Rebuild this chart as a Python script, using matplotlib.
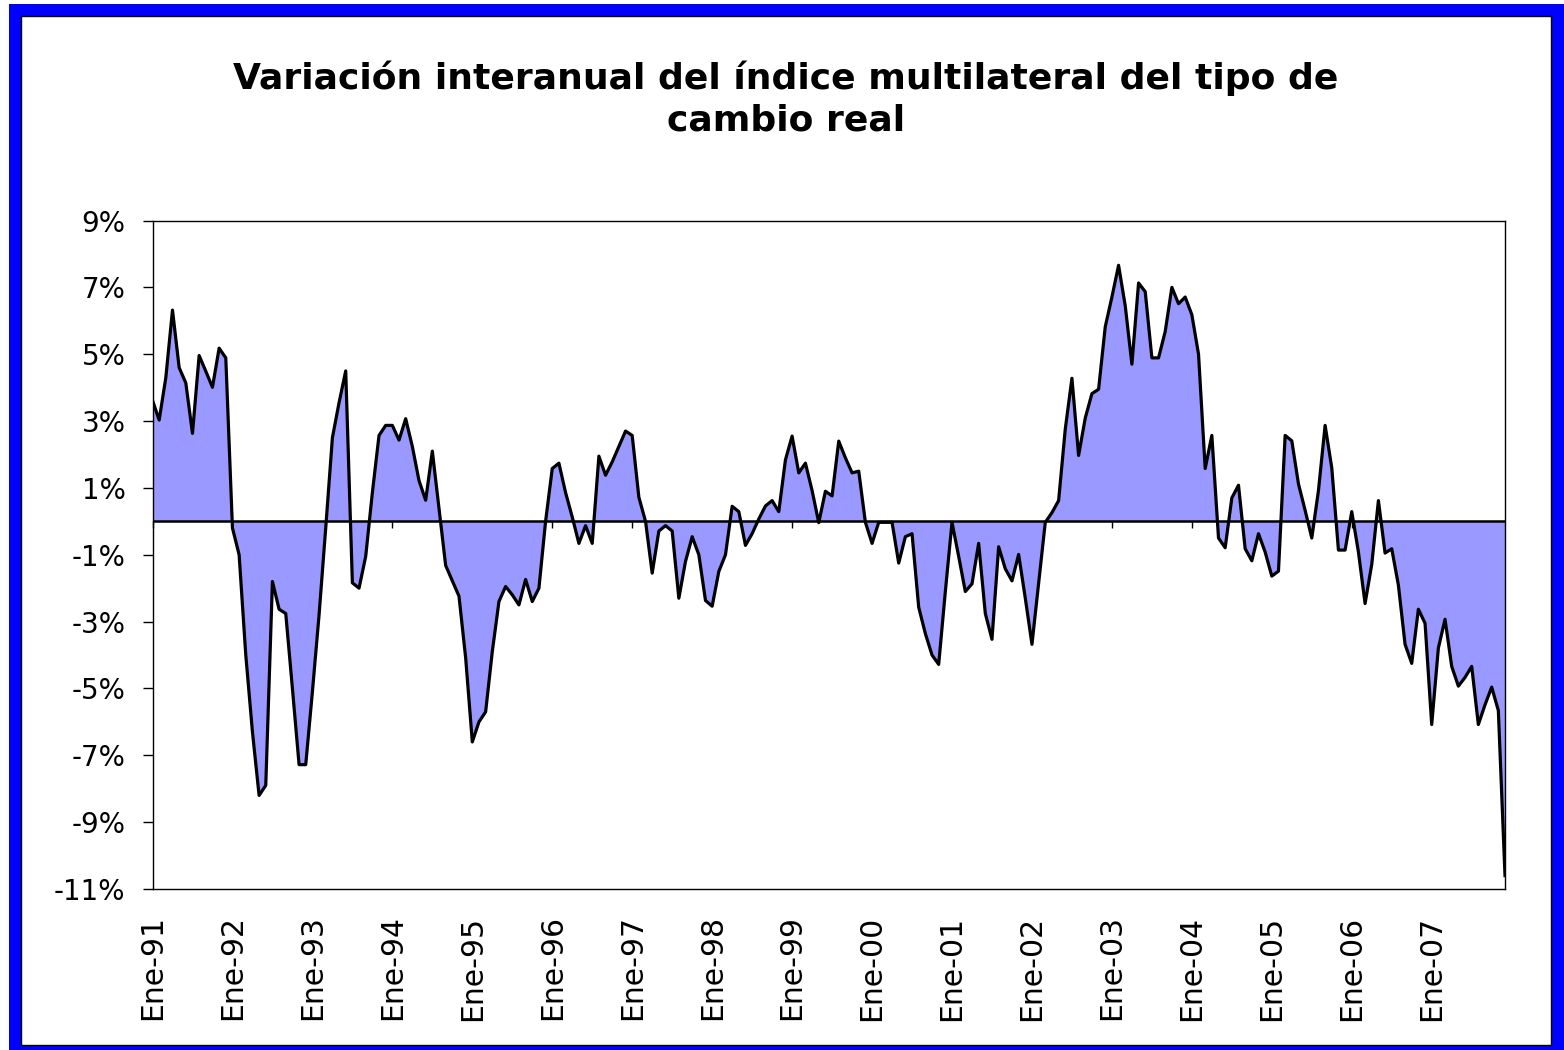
import matplotlib
matplotlib.use('Agg')
import matplotlib.pyplot as plt
import numpy as np
from matplotlib.patches import Rectangle

# anos del eje (etiqueta en enero de cada ano)
years = ['91', '92', '93', '94', '95', '96', '97', '98', '99',
         '00', '01', '02', '03', '04', '05', '06', '07']

# variacion interanual mensual (%), ene-91 a dic-07, una fila por ano
variacion = [
    3.62, 3.03, 4.30, 6.32, 4.60, 4.14, 2.63, 4.96, 4.49, 4.01, 5.18, 4.89,          # 1991
    -0.20, -1.00, -4.00, -6.30, -8.20, -7.90, -1.80, -2.63, -2.76, -5.00, -7.28, -7.28,  # 1992
    -5.10, -2.80, -0.20, 2.50, 3.55, 4.50, -1.84, -2.00, -1.05, 0.86, 2.57, 2.87,    # 1993
    2.87, 2.43, 3.07, 2.24, 1.22, 0.63, 2.10, 0.40, -1.32, -1.78, -2.24, -4.08,      # 1994
    -6.60, -6.00, -5.70, -3.90, -2.40, -1.95, -2.20, -2.50, -1.74, -2.40, -2.00, 0.00,  # 1995
    1.58, 1.74, 0.86, 0.13, -0.66, -0.13, -0.66, 1.95, 1.38, 1.78, 2.24, 2.70,       # 1996
    2.57, 0.72, 0.00, -1.55, -0.29, -0.13, -0.29, -2.30, -1.20, -0.46, -1.00, -2.37,  # 1997
    -2.54, -1.50, -1.00, 0.45, 0.29, -0.72, -0.37, 0.07, 0.46, 0.62, 0.29, 1.84,     # 1998
    2.55, 1.45, 1.74, 0.92, -0.04, 0.90, 0.76, 2.40, 1.90, 1.45, 1.50, -0.03,        # 1999
    -0.66, -0.03, -0.03, -0.03, -1.25, -0.46, -0.37, -2.57, -3.36, -4.00, -4.28, -2.10,  # 2000
    -0.03, -1.05, -2.10, -1.87, -0.66, -2.76, -3.53, -0.76, -1.42, -1.78, -0.99, -2.30,  # 2001
    -3.68, -1.84, -0.03, 0.26, 0.62, 2.76, 4.28, 1.97, 3.09, 3.82, 3.95, 5.82,       # 2002
    6.71, 7.66, 6.45, 4.70, 7.13, 6.87, 4.89, 4.89, 5.68, 7.00, 6.51, 6.71,          # 2003
    6.18, 5.00, 1.58, 2.57, -0.50, -0.79, 0.70, 1.08, -0.82, -1.18, -0.37, -0.92,    # 2004
    -1.64, -1.49, 2.57, 2.41, 1.12, 0.33, -0.50, 0.92, 2.87, 1.60, -0.86, -0.86,     # 2005
    0.29, -0.92, -2.46, -1.29, 0.62, -0.95, -0.82, -1.91, -3.68, -4.25, -2.63, -3.05,  # 2006
    -6.08, -3.79, -2.93, -4.34, -4.93, -4.67, -4.34, -6.08, -5.49, -4.96, -5.66, -10.60,  # 2007
]

y_ticks = [-11, -9, -7, -5, -3, -1, 1, 3, 5, 7, 9]
y_labels = [str(v) + '%' for v in y_ticks]

title = 'Variación interanual del índice multilateral del tipo de\ncambio real'

W, H = 1564, 1050
n = len(variacion)
x = np.arange(n)

fig = plt.figure(figsize=(W / 100, H / 100), dpi=100)
fig.patch.set_facecolor('white')
# marco azul y area blanca interior (detras de los ejes)
fig.patches.append(Rectangle((9 / W, 0), (W - 9) / W, (H - 4) / H,
                             transform=fig.transFigure, facecolor='#0000FF',
                             edgecolor='none', zorder=-10))
fig.patches.append(Rectangle((21 / W, 5 / H), 1530 / W, 1029 / H,
                             transform=fig.transFigure, facecolor='white',
                             edgecolor='black', linewidth=1, zorder=-9))

ax = fig.add_axes([152.5 / W, (H - 889) / H, 1352.5 / W, 668.5 / H])
ax.patch.set_alpha(0)
ax.fill_between(x, variacion, 0, color='#9999FF', linewidth=0)
ax.plot(x, variacion, color='black', lw=2.3)
ax.axhline(0, color='black', lw=1.8, zorder=3)

ax.set_xlim(0, n - 1)
ax.set_ylim(-11, 9)
ax.set_yticks(y_ticks, y_labels)
ax.tick_params(axis='y', direction='out', length=7.5, width=1, labelsize=20, pad=12)

tick_pos = np.arange(0, n, 12)
ax.set_xticks(tick_pos, ['Ene-' + y for y in years], rotation=90)
ax.tick_params(axis='x', length=0, labelsize=21.5, pad=19)
for s in ax.spines.values():
    s.set_linewidth(1)

# marcas de ano sobre la linea del cero (eje secundario a la altura de 0%)
zero = ax.secondary_xaxis(0.55)
zero.set_xticks(tick_pos)
zero.tick_params(direction='in', length=5, width=1, labeltop=False, labelbottom=False)

fig.text(786 / W, 1 - 99 / H, title, ha='center', va='center',
         fontsize=26, fontweight='bold', linespacing=1.25)

fig.savefig('out.png', dpi=100, facecolor=fig.get_facecolor())
